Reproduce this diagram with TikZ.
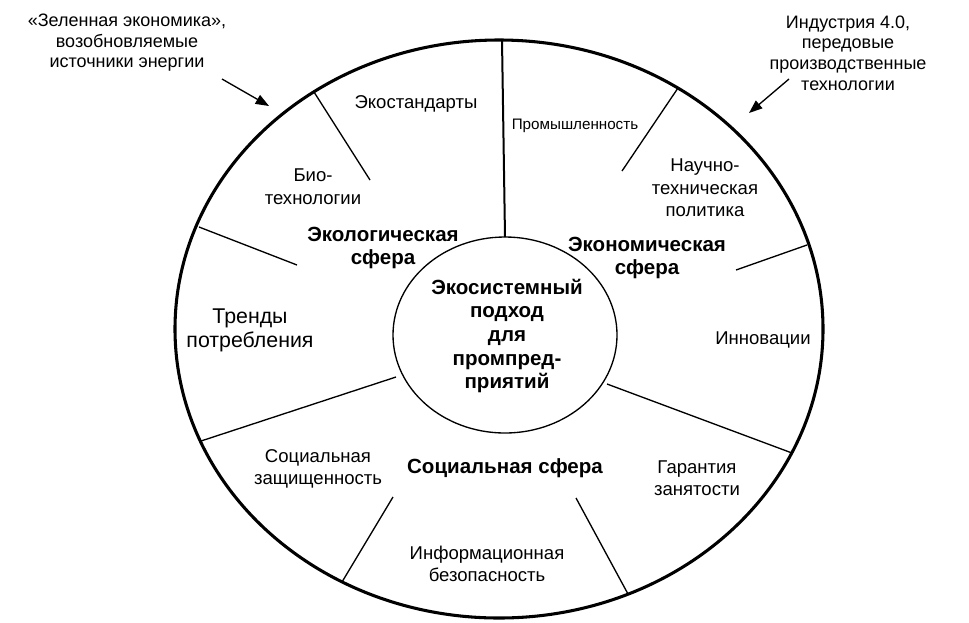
\documentclass[tikz,border=0pt]{standalone}
\usepackage{fontspec}
\setmainfont{Liberation Sans}
\usetikzlibrary{shapes.geometric,arrows.meta}
\begin{document}
\begin{tikzpicture}[x=0.75pt,y=-0.75pt,
  lbl/.style={align=center,inner sep=0pt,font=\fontsize{13.9}{16.9}\selectfont},
  small/.style={align=center,inner sep=0pt,font=\fontsize{11.4}{14}\selectfont},
  big/.style={align=center,inner sep=0pt,font=\fontsize{16}{18}\selectfont},
  sphere/.style={align=center,inner sep=0pt,font=\bfseries\fontsize{15.4}{17.8}\selectfont},
  toptxt/.style={align=center,inner sep=0pt,font=\fontsize{13.5}{15.4}\selectfont},
  spoke/.style={line width=1pt},
  pointer/.style={line width=1pt,-{Triangle[length=10pt,width=7.5pt]}}]
\useasboundingbox (0,0) rectangle (969,622);
% circles
\node[draw,ellipse,line width=2.3pt,minimum width=486pt,minimum height=433.5pt,inner sep=0pt] (outer) at (499,329) {};
\node[draw,ellipse,line width=1pt,minimum width=168pt,minimum height=147pt,inner sep=0pt] (inner) at (505,335) {};
% spoke end points
\coordinate (v1) at (502,40);   \coordinate (v2) at (505,237);
\coordinate (a1) at (314,92);   \coordinate (a2) at (370,180);
\coordinate (b1) at (199,227);  \coordinate (b2) at (297,265);
\coordinate (c1) at (201,441);  \coordinate (c2) at (396,377);
\coordinate (d1) at (342,582);  \coordinate (d2) at (393,497);
\coordinate (e1) at (628,594);  \coordinate (e2) at (576,498);
\coordinate (f1) at (792,453);  \coordinate (f2) at (607,384);
\coordinate (g1) at (807,245);  \coordinate (g2) at (736,270);
\coordinate (h1) at (678,88);   \coordinate (h2) at (622,171);
\draw[line width=1.5pt] (v1) -- (v2);
\foreach \s in {a,b,c,d,e,f,g,h} \draw[spoke] (\s1) -- (\s2);
% labels
\node[lbl] (eco) at (416,104) {Экостандарты};
\node[small] (prom) at (575,126) {Промышленность};
\node[lbl] (bio) at (313,186.5) {Био-\\технологии};
\node[lbl] (nauch) at (705,188) {Научно-\\техническая\\политика};
\node[sphere] (ecol) at (383,248) {Экологическая\\сфера};
\node[sphere] (econ) at (647,258) {Экономическая\\сфера};
\node[big] (trend) at (250,330) {Тренды\\потребления};
\node[sphere] (center) at (507,336) {Экосистемный\\подход\\для\\промпред-\\приятий};
\node[lbl] (innov) at (763,340) {Инновации};
\node[lbl] (socz) at (318,469) {Социальная\\защищенность};
\node[sphere] (socs) at (505,468) {Социальная сфера};
\node[lbl] (gar) at (697,478) {Гарантия\\занятости};
\node[lbl] (info) at (487,564) {Информационная\\безопасность};
\node[toptxt] (green) at (127,43) {«Зеленная экономика»,\\возобновляемые\\источники энергии};
\node[toptxt] (ind) at (848,53) {Индустрия 4.0,\\передовые\\производственные\\технологии};
% arrows
\coordinate (la1) at (222,79); \coordinate (la2) at (269,106);
\coordinate (ra1) at (789,79); \coordinate (ra2) at (749,113);
\draw[pointer] (la1) -- (la2);
\draw[pointer] (ra1) -- (ra2);
\end{tikzpicture}
\end{document}
